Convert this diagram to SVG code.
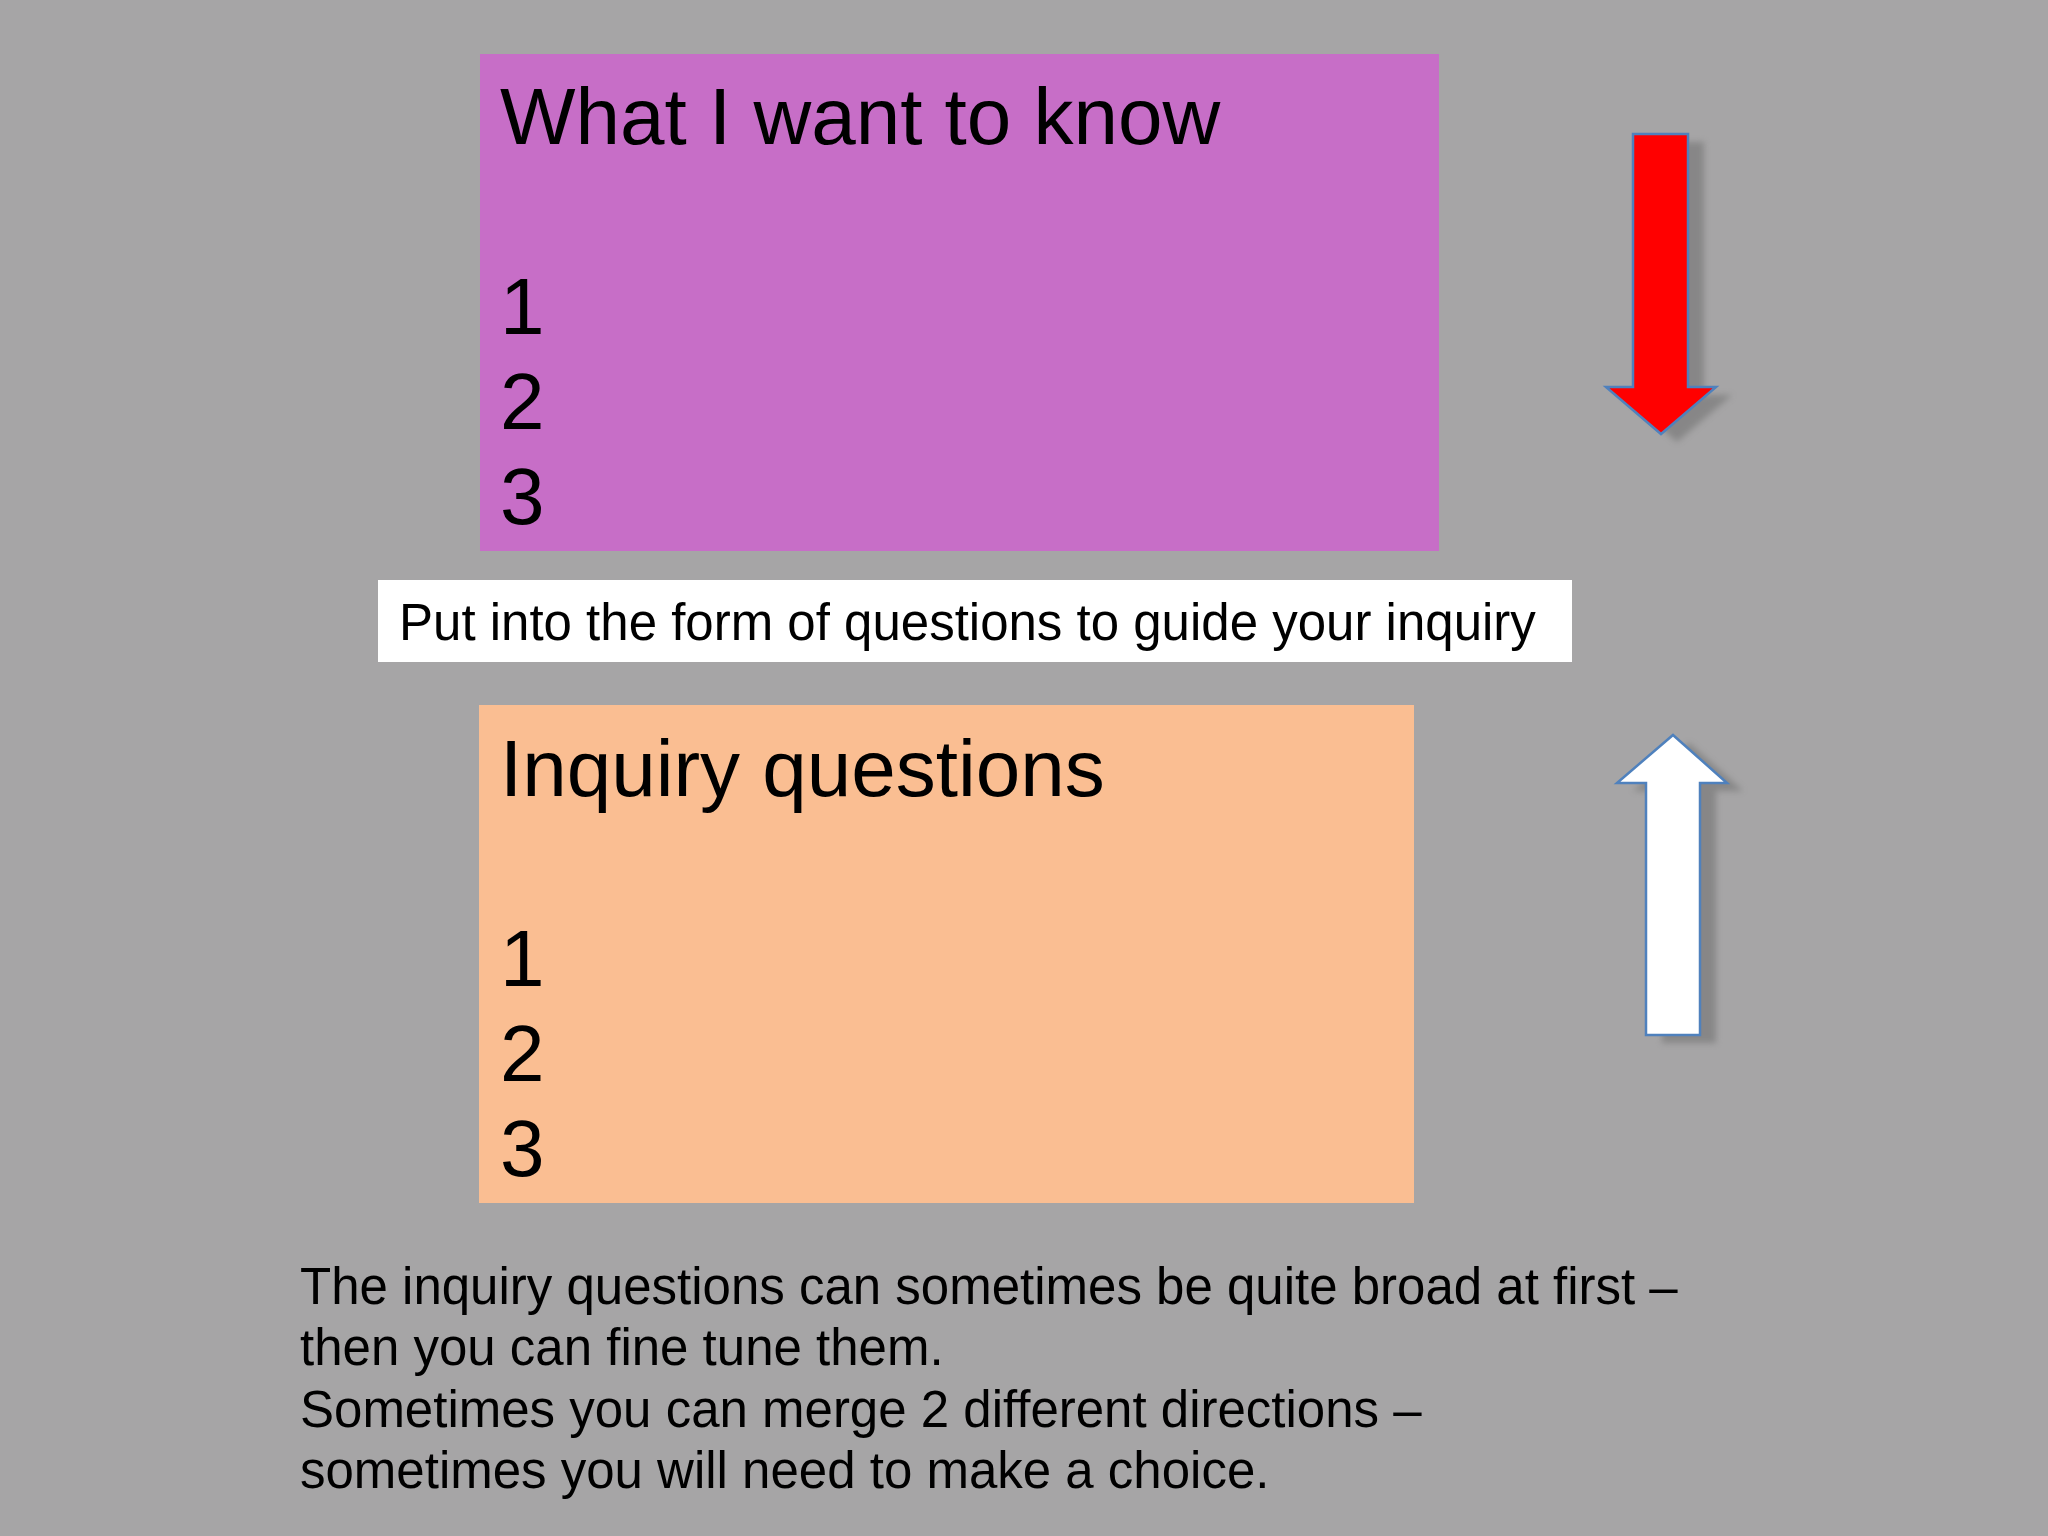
<svg xmlns="http://www.w3.org/2000/svg" width="2048" height="1536" viewBox="0 0 2048 1536">
<style>
text{font-family:"Liberation Sans",Arial,sans-serif;fill:#000}
.big{font-size:80px}
.mid{font-size:51px}
.arrow{stroke:#4f81bd;stroke-width:2.5;stroke-linejoin:miter}
</style>
<defs>
<filter id="sh" x="-30%" y="-10%" width="160%" height="130%">
<feGaussianBlur stdDeviation="3"/>
</filter>
</defs>
<rect width="2048" height="1536" fill="#a6a5a6"/>
<g id="know">
<rect x="480" y="54" width="959" height="497" fill="#c76ec7"/>
<text class="big" x="500" y="144">What I want to know</text>
<text class="big" x="500" y="334">1</text>
<text class="big" x="500" y="429">2</text>
<text class="big" x="500" y="524">3</text>
</g>
<g id="guide">
<rect x="378" y="580" width="1194" height="82" fill="#ffffff"/>
<text class="mid" x="399" y="640">Put into the form of questions to guide your inquiry</text>
</g>
<g id="inquiry">
<rect x="479" y="705" width="935" height="498" fill="#fabe92"/>
<text class="big" x="500" y="796">Inquiry questions</text>
<text class="big" x="500" y="986">1</text>
<text class="big" x="500" y="1081">2</text>
<text class="big" x="500" y="1176">3</text>
</g>
<g id="note">
<text class="mid" x="300" y="1304">The inquiry questions can sometimes be quite broad at first –</text>
<text class="mid" x="300" y="1365">then you can fine tune them.</text>
<text class="mid" x="300" y="1427">Sometimes you can merge 2 different directions –</text>
<text class="mid" x="300" y="1488">sometimes you will need to make a choice.</text>
</g>
<g id="connectors">
<g id="down-arrow">
<polygon points="1633,134 1688,134 1688,387 1716,387 1661,434 1606,387 1633,387" fill="#6e6e6e" opacity="0.55" filter="url(#sh)" transform="translate(16,8)"/>
<polygon class="arrow" points="1633,134 1688,134 1688,387 1716,387 1661,434 1606,387 1633,387" fill="#ff0000"/>
</g>
<g id="up-arrow">
<polygon points="1673,735 1727,783 1700,783 1700,1035 1646,1035 1646,783 1617,783" fill="#6e6e6e" opacity="0.55" filter="url(#sh)" transform="translate(16,8)"/>
<polygon class="arrow" points="1673,735 1727,783 1700,783 1700,1035 1646,1035 1646,783 1617,783" fill="#ffffff"/>
</g>
</g>
</svg>
